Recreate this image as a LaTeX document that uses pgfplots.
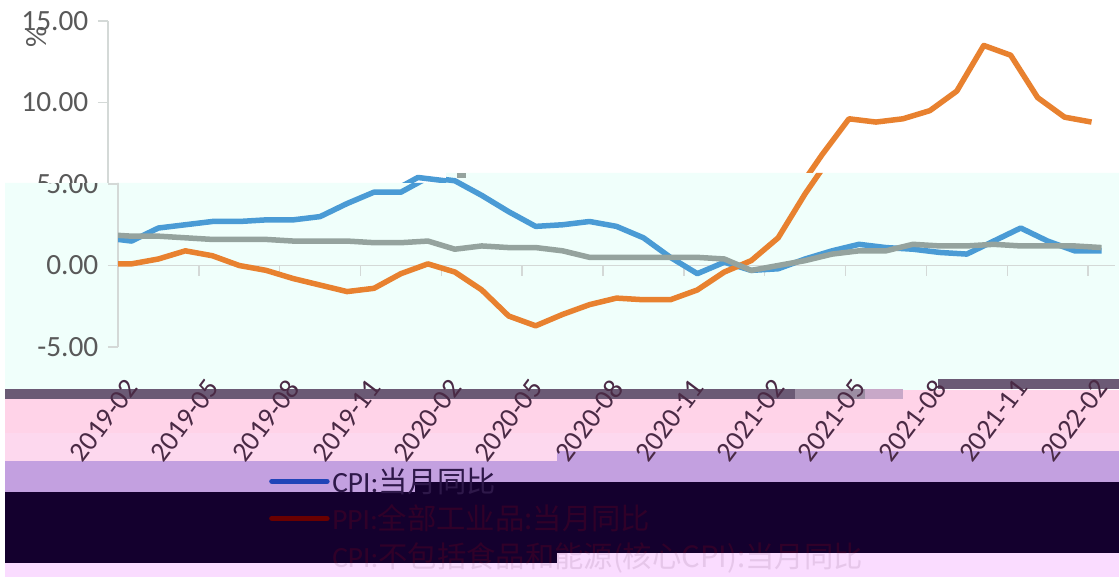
\documentclass[border=0pt]{standalone}
\usepackage{pgfplots}
\pgfplotsset{compat=1.18}
\usepackage{pgfplotstable}
\usepackage{fontspec}
\setmainfont{Carlito}
\newfontfamily\cjk{Noto Sans CJK SC}

\definecolor{cpiblue}{HTML}{4A9BD5}
\definecolor{ppiorange}{HTML}{E8812F}
\definecolor{coregray}{HTML}{95A39E}
\definecolor{mint}{HTML}{F0FFFB}
\definecolor{bandgray}{HTML}{6B5A75}
\definecolor{bandlight}{HTML}{9C8DA3}
\definecolor{bandlilac}{HTML}{C8A8C8}
\definecolor{pinka}{HTML}{FFD3E8}
\definecolor{pinkb}{HTML}{FDD8EE}
\definecolor{purpleband}{HTML}{C3A0E0}
\definecolor{navyband}{HTML}{14002E}
\definecolor{palepink}{HTML}{FADCFF}
\definecolor{ticktext}{HTML}{595959}
\definecolor{tickdark}{HTML}{4A2A45}
\definecolor{axisgray}{HTML}{D4D9D7}

% month index: 0 = 2019-02, -1 = 2019-01 (clipped by the axis)
\pgfplotstableread{
k  cpi  ppi   core
-1 1.7  0.1   1.9
0  1.5  0.1   1.8
1  2.3  0.4   1.8
2  2.5  0.9   1.7
3  2.7  0.6   1.6
4  2.7  0.0   1.6
5  2.8  -0.3  1.6
6  2.8  -0.8  1.5
7  3.0  -1.2  1.5
8  3.8  -1.6  1.5
9  4.5  -1.4  1.4
10 4.5  -0.5  1.4
11 5.4  0.1   1.5
12 5.2  -0.4  1.0
13 4.3  -1.5  1.2
14 3.3  -3.1  1.1
15 2.4  -3.7  1.1
16 2.5  -3.0  0.9
17 2.7  -2.4  0.5
18 2.4  -2.0  0.5
19 1.7  -2.1  0.5
20 0.5  -2.1  0.5
21 -0.5 -1.5  0.5
22 0.2  -0.4  0.4
23 -0.3 0.3   -0.3
24 -0.2 1.7   0.0
25 0.4  4.4   0.3
26 0.9  6.8   0.7
27 1.3  9.0   0.9
28 1.1  8.8   0.9
29 1.0  9.0   1.3
30 0.8  9.5   1.2
31 0.7  10.7  1.2
32 1.5  13.5  1.3
33 2.3  12.9  1.2
34 1.5  10.3  1.2
35 0.9  9.1   1.2
36 0.9  8.8   1.1
}\rates

\newlength\px
\setlength\px{0.75pt}

\pgfplotsset{
  ratechart/.style={
    anchor=south west,
    scale only axis,
    width=997\px, height=326\px,
    xmin=-0.5, xmax=36.5, ymin=-5, ymax=15,
    axis x line=middle, axis y line=left,
    hide obscured x ticks=false,
    hide obscured y ticks=false,
    axis line style={-, axisgray, line width=1.4\px},
    tick style={axisgray, line width=1.4\px},
    tick align=outside,
    major tick length=10\px,
    clip mode=individual,
    xtick={-0.5,2.5,...,35.5},
    xticklabels={2019-02,2019-05,2019-08,2019-11,2020-02,2020-05,2020-08,2020-11,2021-02,2021-05,2021-08,2021-11,2022-02},
    x tick label style={xshift=-14\px, yshift=-145\px, rotate=53, anchor=center,
      font=\fontsize{21pt}{24pt}\selectfont, text=tickdark},
    ytick={-5,0,5,10,15},
    y tick label style={xshift=-5\px, font=\fontsize{22pt}{24pt}\selectfont, text=ticktext,
      /pgf/number format/.cd, fixed, fixed zerofill, precision=2, assume math mode=true},
    every axis plot/.append style={line width=5.5\px, line join=round, forget plot},
  },
}

\newcommand{\ratelines}{%
  \addplot[cpiblue] table[x=k,y=cpi] {\rates};
  \addplot[ppiorange] table[x=k,y=ppi] {\rates};
  \addplot[coregray] table[x=k,y=core] {\rates};
}

\begin{document}
\begin{tikzpicture}[x=\px, y=-\px]
  \path[use as bounding box, fill=white] (0,0) rectangle (1119,577);

  % colour bands of the reference
  \fill[mint] (5,183) -- (446,183) -- (446,173) -- (1119,173) -- (1119,379)
    -- (938,379) -- (938,390) -- (5,390) -- cycle;
  \fill[pinka] (5,390) rectangle (1119,433);
  \fill[pinkb] (5,433) rectangle (1119,461);
  \fill[bandgray] (5,389) rectangle (795,399);
  \fill[bandlight] (795,389) rectangle (865,399);
  \fill[bandlilac] (865,389) rectangle (903,399);
  \fill[bandgray] (938,379) rectangle (1119,389);
  \fill[purpleband] (5,461) -- (557,461) -- (557,451) -- (1119,451) -- (1119,482)
    -- (415,482) -- (415,492) -- (5,492) -- cycle;
  \fill[navyband] (5,492) -- (415,492) -- (415,482) -- (1119,482) -- (1119,553)
    -- (557,553) -- (557,563) -- (5,563) -- cycle;
  \fill[palepink] (5,563) -- (557,563) -- (557,553) -- (1119,553) -- (1119,577) -- (5,577) -- cycle;

  % upper part of the chart, set about 10 px to the left
  \begin{scope}
    \clip (0,0) rectangle (1119,173) (0,173) rectangle (446,183);
    \begin{axis}[ratechart, at={(108\px,-347\px)},
        ylabel={\%},
        every axis y label/.style={at={(rel axis cs:-0.072,0.952)}, rotate=90,
          font=\fontsize{22pt}{24pt}\selectfont, text=ticktext}]
      \ratelines
    \end{axis}
  \end{scope}
  \fill[coregray] (457,173) rectangle (466,178);

  % lower part of the chart, with the legend
  \begin{scope}
    \clip (0,183) -- (446,183) -- (446,173) -- (1119,173) -- (1119,577) -- (0,577) -- cycle;
    \begin{axis}[ratechart, at={(118\px,-347\px)},
        legend cell align=left,
        legend style={at={(axis cs:5.1,-12.24)}, anchor=north west, draw=none, fill=none,
          inner sep=0pt, row sep=5\px, font=\fontsize{22pt}{24pt}\selectfont,
          /tikz/every even column/.style={column sep=10\px}},
        legend image code/.code={\draw[#1, line width=5.5\px, line cap=round] (0,0) -- (55\px,0);}]
      \ratelines
      \addlegendimage{color={rgb,255:red,32;green,68;blue,184}}
      \addlegendentry{\textcolor{navyband!85!purpleband}{CPI:{\cjk 当月同比}}}
      \addlegendimage{color={rgb,255:red,106;green,0;blue,0}}
      \addlegendentry{\textcolor{navyband!88!red}{PPI:{\cjk 全部工业品:当月同比}}}
      \addlegendimage{color=navyband}
      \addlegendentry{\textcolor{navyband!88!red}{CPI:{\cjk 不包括食品和能源(核心CPI):当月同比}}}
    \end{axis}
  \end{scope}

  % the last legend row fades out where it leaves the dark band
  \fill[palepink, opacity=0.9] (5,563) -- (557,563) -- (557,553) -- (1119,553) -- (1119,577) -- (5,577) -- cycle;
\end{tikzpicture}
\end{document}
